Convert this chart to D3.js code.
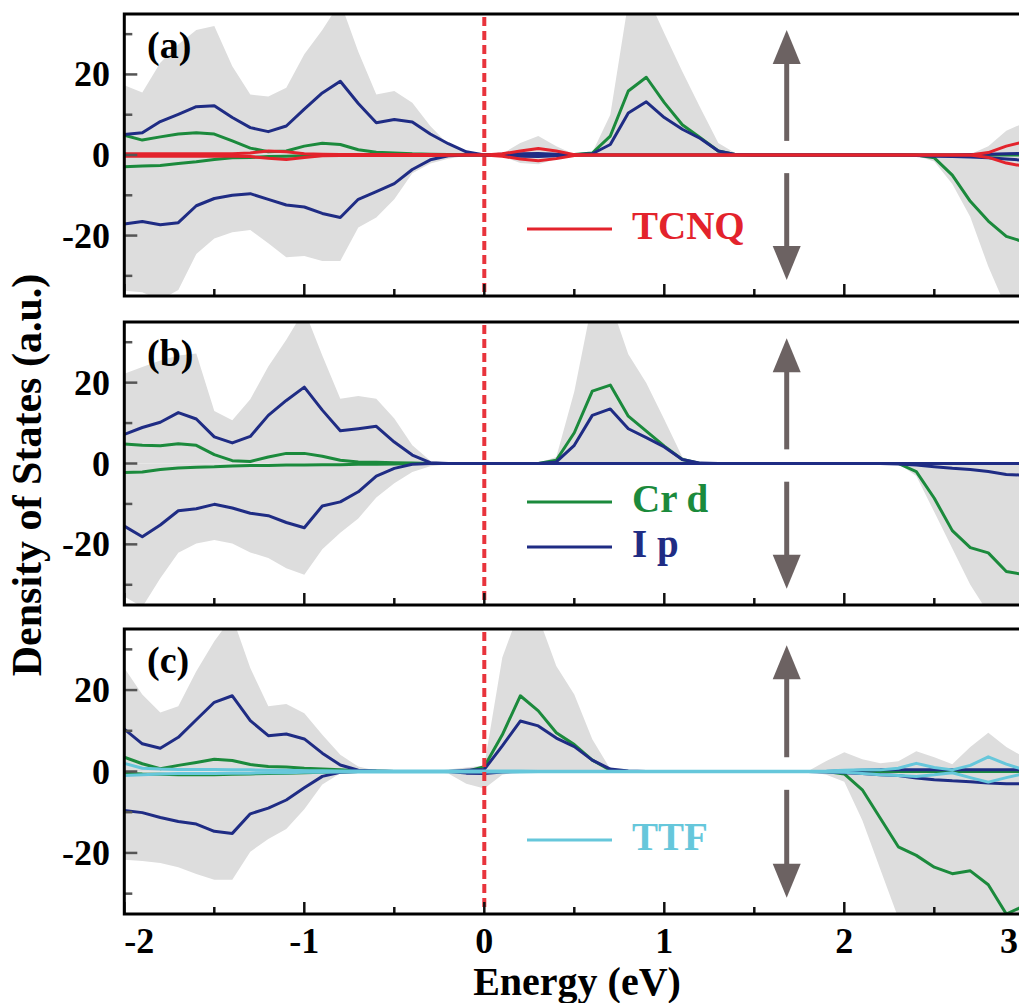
<!DOCTYPE html>
<html><head><meta charset="utf-8">
<script src="https://cdn.jsdelivr.net/npm/d3@7"></script>
<style>body{margin:0;background:#fff}svg{display:block}</style>
</head><body>
<svg id="chart" width="1019" height="1003"></svg>
<script>
// ---------------- DATA ----------------
const energy = [-2.0,-1.9,-1.8,-1.7,-1.6,-1.5,-1.4,-1.3,-1.2,-1.1,-1.0,-0.9,-0.8,-0.7,-0.6,-0.5,-0.4,-0.3,-0.2,-0.1,
  0.0,
  0.1,0.2,0.3,0.4,0.5,0.6,0.7,0.8,0.9,1.0,1.1,1.2,1.3,1.4,1.5,1.6,1.7,1.8,1.9,2.0,2.1,2.2,2.3,2.4,2.5,2.6,2.7,2.8,2.9,3.0];
const xTickValues = [-2,-1,0,1,2,3];
const xMinorTicks = [-1.5,-0.5,0.5,1.5,2.5];
const yTickValues = [-20,0,20];
const yMinorTicks = [-30,-10,10,30];
const panelLabels = ["(a)","(b)","(c)"];

// Panel (a)
const totUpA = [17.3,15.5,22.9,27.4,31,32,22,15,14.5,16.7,25,31,38,25.6,15,15.9,13,7.2,2.6,0.7,
  0,
  0.3,3,4.7,2.2,0.2,0.6,10,38,40,30.2, 20.7,11.7,3,0.3,0,0,0,0,0,0, 0,0,0,0,0,0,0.2,2.2,6,8];
const totDnA = [-33.7,-34.1,-36,-33.5,-24.6,-20.7,-19.2,-18.6,-21.9,-25.4,-25.1,-26.3,-26.3,-18,-15.5,-11,-4.5,-2.1,-0.9,-0.2,
  0,
  -0.3,-2,-2.3,-1,-0.1,0,0,0,0,0, 0,0,0,0,0,0,0,0,0,0, 0,0,0,-0.2,-1.6,-7.2,-15.4,-27.7,-38,-40];
const crUpA = [4.9,3.7,4.5,5.2,5.5,5.2,3.5,1.7,0.8,1.0,2.2,2.9,2.6,1.3,0.7,0.5,0.3,0.2,0.1,0,
  0,
  0,0,0,0,0.1,0.5,4.7,15.9,19.3,13, 7.5,4.3,1.0,0.1,0,0,0,0,0,0, 0,0,0,0,0,0,0,0,0,0];
const crDnA = [-2.9,-2.7,-2.6,-2.1,-1.7,-1.1,-0.7,-0.6,-0.4,-0.3,-0.2,-0.1,-0.1,-0.1,0,0,0,0,0,0,
  0,
  0,0,0,0,0,0,0,0,0,0, 0,0,0,0,0,0,0,0,0,0, 0,0,0,0,-0.7,-5,-11.5,-16.4,-20.2,-21.6];
const ipUpA = [5.1,5.5,8.3,10.1,12.0,12.2,9.3,6.8,5.8,7.2,11.4,15.4,18.3,12.8,8.0,8.8,8.2,5.2,2.8,0.8,
  0,
  0.2,0.3,0.4,0.2,0.05,0.3,2.6,10.4,13.2,9.3, 6.4,4.1,1.0,0.1,0,0,0,0,0,0, 0,0,0,0,0,0,0.1,0.2,0.3,0.4];
const ipDnA = [-17.1,-16.5,-17.3,-16.8,-12.6,-10.8,-10,-9.6,-11,-12.4,-12.9,-14.5,-15.5,-11,-9.1,-7.1,-3.6,-1.2,-0.2,0,
  0,
  -0.1,-0.3,-0.4,-0.2,0,0,0,0,0,0, 0,0,0,0,0,0,0,0,0,0, 0,0,0,-0.1,-0.3,-0.4,-0.5,-0.7,-1.0,-1.3];
const tcnqUpA = [0.3,0.3,0.3,0.3,0.3,0.3,0.3,0.5,1.0,0.8,0.3,0.2,0.1,0.1,0.1,0.1,0.1,0.1,0.05,0,
  0,
  0.3,1.0,1.6,1.0,0.1,0,0,0,0,0, 0,0,0,0,0,0,0,0,0,0, 0,0,0,0,0,0,0,0.6,2.2,3.3];
const tcnqDnA = [-0.3,-0.3,-0.3,-0.3,-0.3,-0.3,-0.3,-0.4,-0.8,-1.1,-0.6,-0.2,-0.1,-0.1,-0.1,-0.1,-0.1,-0.1,-0.05,0,
  0,
  -0.3,-1.0,-1.4,-0.9,-0.1,0,0,0,0,0, 0,0,0,0,0,0,0,0,0,0, 0,0,0,0,0,0,0,-0.6,-2.0,-2.8];

// Panel (b)
const totUpB = [22.2,23.9,25.5,26.7,27.2,13,10.7,15.9,24,30.6,38,26.7,16,16.7,16,11.1,4.5,0.7,0.2,0,
  0,
  0,0,0.1,1.6,17.8,40,40,27,19.9,10.9, 1.6,0,0,0,0,0,0,0,0,0, 0,0,0,0,0,0,0,0,0,0];
const totDnB = [-32.9,-35.5,-28.4,-22.1,-19.8,-18.9,-19.8,-22,-23.4,-25.9,-27.5,-21.2,-17.1,-13.6,-8.4,-4.9,-2.1,-0.7,-0.2,0,
  0,
  0,0,0,0,0,0,0,0,0,0, 0,0,0,0,0,0,0,0,0,0, 0,0,0,-3.1,-12,-21,-30,-37,-38,-38];
const crUpB = [4.8,4.5,4.4,4.9,4.5,2.2,0.7,0.5,1.6,2.5,2.5,1.8,0.8,0.4,0.3,0.2,0.1,0,0,0,
  0,
  0,0,0,0.8,7.6,17.9,19.4,11.7,8,4.3, 1.0,0,0,0,0,0,0,0,0,0, 0,0,0,0,0,0,0,0,0,0];
const crDnB = [-2.2,-2.1,-1.5,-1.1,-0.9,-0.8,-0.6,-0.5,-0.5,-0.4,-0.4,-0.3,-0.3,-0.2,-0.2,-0.1,0,0,0,0,
  0,
  0,0,0,0,0,0,0,0,0,0, 0,0,0,0,0,0,0,0,0,0, 0,0,0,-2.0,-8.6,-16.6,-20.8,-22.1,-26.7,-27.5];
const ipUpB = [7.2,8.9,10.2,12.6,11,6.6,5.1,6.7,11.9,15.6,18.9,13.2,8.1,8.6,9.2,5.3,2.1,0.2,0,0,
  0,
  0,0,0,0.4,4.5,11.9,13.5,8.6,6.4,4.1, 1.0,0.1,0,0,0,0,0,0,0,0, 0,0,0,0,0,0,0,0,0,0];
const ipDnB = [-15.5,-18.1,-15.2,-11.7,-11.2,-10.1,-11,-12.3,-12.9,-14.6,-15.9,-10.5,-9.5,-7,-3.1,-1.2,-0.2,0,0,0,
  0,
  0,0,0,0,0,0,0,0,0,0, 0,0,0,0,0,0,0,0,0,0, 0,0,-0.1,-0.4,-0.8,-1.2,-1.5,-2.0,-2.7,-2.9];

// Panel (c)
const totUpC = [25.4,18.9,14.5,16,24.6,32,38,25.4,16,16.6,14.3,9,4.1,1.2,0.2,0,0,0,0.5,1.0,
  1.5,
  28,40,38,25.9,18.9,7.9,0.6,0,0,0, 0,0,0,0,0,0,0,0.1,2.6,4.7, 3.0,2.0,2.5,5.0,3.5,1.8,6.0,9.5,6.0,3.5];
const totDnC = [-21.7,-22,-22.5,-23.5,-25.2,-26.6,-26.6,-19.7,-16.6,-14.1,-9.3,-3.2,-0.4,-0.1,0,0,0,0,-0.5,-3,
  -4.2,
  -0.8,0,0,0,0,0,0,0,0,0, 0,0,0,0,0,0,0,0,-0.8,-2.5, -12,-24,-36,-38,-38,-38,-38,-38,-38,-38];
const crUpC = [3.5,1.9,0.7,1.5,2.2,3.0,2.7,1.7,1.2,1.1,0.8,0.6,0.4,0.2,0.1,0,0,0,0,0,
  1.2,
  9,18.6,14.9,9.5,6.6,2.8,0.3,0,0,0, 0,0,0,0,0,0,0,0,0,0, 0,0,0,0,0,0,0,0,0,0];
const crDnC = [-0.4,-0.6,-0.7,-0.8,-0.8,-0.8,-0.7,-0.6,-0.5,-0.4,-0.3,-0.2,-0.1,0,0,0,0,0,0,0,
  0,
  0,0,0,0,0,0,0,0,0,0, 0,0,0,0,0,0,0,0,0,-0.6, -4.5,-11.5,-18.5,-20.6,-23.5,-25.1,-24.4,-27.8,-35,-33];
const ipUpC = [10.4,6.8,5.7,8.4,12.7,17,18.6,12.5,8.8,9.2,8,4.5,1.6,0.3,0.1,0,0,0,0,0.3,
  0.5,
  6.3,12.4,11.2,8.2,6.1,2.8,0.6,0.1,0,0, 0,0,0,0,0,0,0,0,0,0.2, 0.3,0.4,0.4,0.4,0.4,0.4,0.4,0.4,0.4,0.4];
const ipDnC = [-9.6,-10.1,-11.3,-12.3,-12.9,-14.7,-15.2,-10.4,-9,-7,-4,-1.2,-0.2,0,0,0,0,0,0,-0.4,
  -0.5,
  -0.1,0,0,0,0,0,0,0,0,0, 0,0,0,0,0,0,0,0,-0.1,-0.3, -0.5,-0.8,-1.0,-1.6,-2.0,-2.3,-2.5,-2.8,-3.0,-3.0];
const ttfUpC = [2.0,0.8,0.6,0.5,0.5,0.5,0.4,0.4,0.3,0.3,0.2,0.2,0.1,0.1,0.1,0.1,0.1,0.1,0.1,0.1,
  0.1,
  0.1,0.1,0.05,0.05,0.05,0.05,0.05,0.05,0.05,0.05, 0.05,0.05,0.05,0.05,0.05,0.05,0.05,0.05,0.1,0.3, 0.4,0.4,0.8,2.0,1.0,0.4,1.5,3.6,1.8,0.4];
const ttfDnC = [-1.0,-0.8,-0.6,-0.5,-0.5,-0.5,-0.4,-0.4,-0.3,-0.3,-0.2,-0.2,-0.1,-0.1,-0.1,-0.1,-0.1,-0.1,-0.1,-0.1,
  -0.1,
  -0.1,-0.1,-0.05,-0.05,-0.05,-0.05,-0.05,-0.05,-0.05,-0.05, -0.05,-0.05,-0.05,-0.05,-0.05,-0.05,-0.05,-0.05,-0.1,-0.2, -0.5,-0.8,-1.0,-1.2,-0.8,-0.3,-1.5,-2.6,-1.5,-0.5];

// spin arrows (data units) at this energy
const arrowEnergy = 1.68;
const arrowUp = [3.5, 31];
const arrowDown = [-4.5, -31];

// ---------------- STYLE / LAYOUT ----------------
const C = {green:"#1b8a3c", navy:"#1f2c84", red:"#e3232c", cyan:"#66c7db", fill:"#dddddd", arrow:"#6c6262", fermi:"#e8343c"};
const FONT = "'Liberation Serif','Times New Roman',serif";
const xLeft = 124.3, xRight = 1024.3;

const panels = [
  {label:panelLabels[0], top:14, bottom:296, up:totUpA, dn:totDnA,
   lines:[[crUpA,C.green],[crDnA,C.green],[ipUpA,C.navy],[ipDnA,C.navy],[tcnqUpA,C.red],[tcnqDnA,C.red]],
   legend:[{name:"TCNQ",color:C.red,y:229}]},
  {label:panelLabels[1], top:322, bottom:605, up:totUpB, dn:totDnB,
   lines:[[crUpB,C.green],[crDnB,C.green],[ipUpB,C.navy],[ipDnB,C.navy]],
   legend:[{name:"Cr d",color:C.green,y:502},{name:"I p",color:C.navy,y:547}]},
  {label:panelLabels[2], top:629, bottom:914, up:totUpC, dn:totDnC,
   lines:[[crUpC,C.green],[crDnC,C.green],[ipUpC,C.navy],[ipDnC,C.navy],[ttfUpC,C.cyan],[ttfDnC,C.cyan]],
   legend:[{name:"TTF",color:C.cyan,y:840}]}
];

const svg = d3.select("#chart");
const x = d3.scaleLinear().domain([-2,3]).range([xLeft,xRight]);

panels.forEach((p,pi)=>{
  const y = d3.scaleLinear().domain([-35,35]).range([p.bottom,p.top]);
  const g = svg.append("g");
  const cid = "clip"+pi;
  svg.append("clipPath").attr("id",cid).append("rect")
    .attr("x",xLeft).attr("y",p.top).attr("width",xRight-xLeft).attr("height",p.bottom-p.top);
  const plot = g.append("g").attr("clip-path",`url(#${cid})`);

  const area = arr => d3.area().x((d,i)=>x(energy[i])).y0(y(0)).y1((d)=>y(d))(arr);
  plot.append("path").attr("d",area(p.up)).attr("fill",C.fill);
  plot.append("path").attr("d",area(p.dn)).attr("fill",C.fill);

  const line = d3.line().x((d,i)=>x(energy[i])).y(d=>y(d));
  p.lines.forEach(([arr,col])=>{
    plot.append("path").attr("d",line(arr)).attr("fill","none")
      .attr("stroke",col).attr("stroke-width",3).attr("stroke-linejoin","round");
  });

  // Fermi level
  g.append("line").attr("x1",x(0)).attr("x2",x(0)).attr("y1",p.top+3).attr("y2",p.bottom-2)
    .attr("stroke",C.fermi).attr("stroke-width",4).attr("stroke-dasharray","9,5");

  // arrows
  const ax = x(arrowEnergy);
  const drawArrow = (from,to)=>{
    const y1 = y(from), y2 = y(to), dir = Math.sign(y2-y1);
    const headLen = 34, halfW = 14;
    g.append("line").attr("x1",ax).attr("x2",ax).attr("y1",y1).attr("y2",y2-dir*headLen+dir*2)
      .attr("stroke",C.arrow).attr("stroke-width",5);
    g.append("path").attr("d",`M${ax},${y2}L${ax-halfW},${y2-dir*headLen}L${ax+halfW},${y2-dir*headLen}Z`)
      .attr("fill",C.arrow);
  };
  drawArrow(arrowUp[0],arrowUp[1]);
  drawArrow(arrowDown[0],arrowDown[1]);

  // ticks
  yTickValues.forEach(v=>{
    g.append("line").attr("x1",xLeft).attr("x2",xLeft+13).attr("y1",y(v)).attr("y2",y(v))
      .attr("stroke","#555").attr("stroke-width",2.5);
    g.append("text").attr("x",110).attr("y",y(v)+12).attr("text-anchor","end")
      .attr("font-family",FONT).attr("font-weight","bold").attr("font-size",36).text(v);
  });
  yMinorTicks.forEach(v=>{
    g.append("line").attr("x1",xLeft).attr("x2",xLeft+8).attr("y1",y(v)).attr("y2",y(v))
      .attr("stroke","#555").attr("stroke-width",2.5);
  });
  xTickValues.forEach(v=>{
    g.append("line").attr("x1",x(v)).attr("x2",x(v)).attr("y1",p.bottom).attr("y2",p.bottom-12)
      .attr("stroke","#111").attr("stroke-width",2.5);
  });
  xMinorTicks.forEach(v=>{
    g.append("line").attr("x1",x(v)).attr("x2",x(v)).attr("y1",p.bottom).attr("y2",p.bottom-7)
      .attr("stroke","#111").attr("stroke-width",2.5);
  });

  // frame
  g.append("rect").attr("x",xLeft).attr("y",p.top).attr("width",xRight-xLeft).attr("height",p.bottom-p.top)
    .attr("fill","none").attr("stroke","#000").attr("stroke-width",3);

  // panel label
  g.append("text").attr("x",147).attr("y",p.top+44).attr("font-family",FONT).attr("font-weight","bold")
    .attr("font-size",38).text(p.label);

  // legend
  p.legend.forEach(l=>{
    g.append("line").attr("x1",527).attr("x2",612).attr("y1",l.y).attr("y2",l.y)
      .attr("stroke",l.color).attr("stroke-width",3);
    g.append("text").attr("x",632).attr("y",l.y+10).attr("fill",l.color).attr("font-family",FONT)
      .attr("font-weight","bold").attr("font-size",39).text(l.name);
  });

  // x tick labels on bottom panel
  if(pi===panels.length-1){
    xTickValues.forEach((v,i)=>{
      const last = i===xTickValues.length-1;
      const anchor = i===0 ? "start" : (last ? "end" : "middle");
      g.append("text").attr("x",last ? 1018 : x(v)).attr("y",953).attr("text-anchor",anchor)
        .attr("font-family",FONT).attr("font-weight","bold").attr("font-size",36).text(v);
    });
  }
});

svg.append("text").attr("x",577).attr("y",995).attr("text-anchor","middle")
  .attr("font-family",FONT).attr("font-weight","bold").attr("font-size",40).text("Energy (eV)");
svg.append("text").attr("transform","translate(41,475) rotate(-90)").attr("text-anchor","middle")
  .attr("font-family",FONT).attr("font-weight","bold").attr("font-size",42).text("Density of States (a.u.)");
</script>
</body></html>
